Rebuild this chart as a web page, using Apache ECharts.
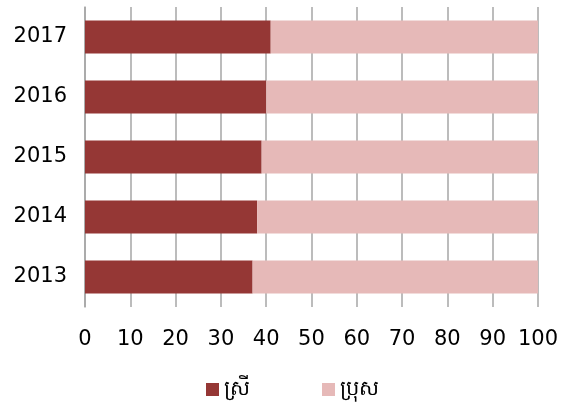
<!DOCTYPE html>
<html>
<head>
<meta charset="utf-8">
<script src="https://cdn.jsdelivr.net/npm/echarts@6/dist/echarts.min.js"></script>
<style>
  html, body { margin: 0; padding: 0; background: #fff; }
  #chart { width: 561px; height: 408px; }
</style>
</head>
<body>
<div id="chart"></div>
<script>
// years, bottom to top
var years = ['2013', '2014', '2015', '2016', '2017'];
var women = [37, 38, 39, 40, 41];
var men = [63, 62, 61, 60, 59];
var seriesNames = ['ស្រី', 'ប្រុស'];

var chart = echarts.init(document.getElementById('chart'));
var font = '"DejaVu Sans", "Noto Sans", sans-serif';

var option = {
  animation: false,
  grid: { left: 85, right: 23, top: 7, bottom: 101 },
  legend: {
    bottom: 3,
    left: 201,
    itemWidth: 13,
    itemHeight: 13,
    itemGap: 72,
    icon: 'rect',
    textStyle: { fontSize: 21, color: '#000', fontFamily: font },
    data: seriesNames
  },
  xAxis: {
    type: 'value',
    min: 0,
    max: 100,
    interval: 10,
    axisLine: { show: false },
    axisTick: { show: false },
    splitLine: { show: true, lineStyle: { color: '#a6a6a6', width: 1.5 } },
    axisLabel: { fontSize: 21, color: '#000', margin: 22, fontFamily: font }
  },
  yAxis: {
    type: 'category',
    data: years,
    axisLine: { show: true, lineStyle: { color: '#a6a6a6', width: 1.5 } },
    axisTick: { show: false },
    axisLabel: { fontSize: 21, color: '#000', margin: 18, fontFamily: font, padding: [4, 0, 0, 0] }
  },
  series: [
    {
      name: seriesNames[0],
      type: 'bar',
      stack: 'total',
      barWidth: '55%',
      itemStyle: { color: '#953735' },
      data: women
    },
    {
      name: seriesNames[1],
      type: 'bar',
      stack: 'total',
      barWidth: '55%',
      itemStyle: { color: '#e6b9b8' },
      data: men
    }
  ]
};
chart.setOption(option);
</script>
</body>
</html>
